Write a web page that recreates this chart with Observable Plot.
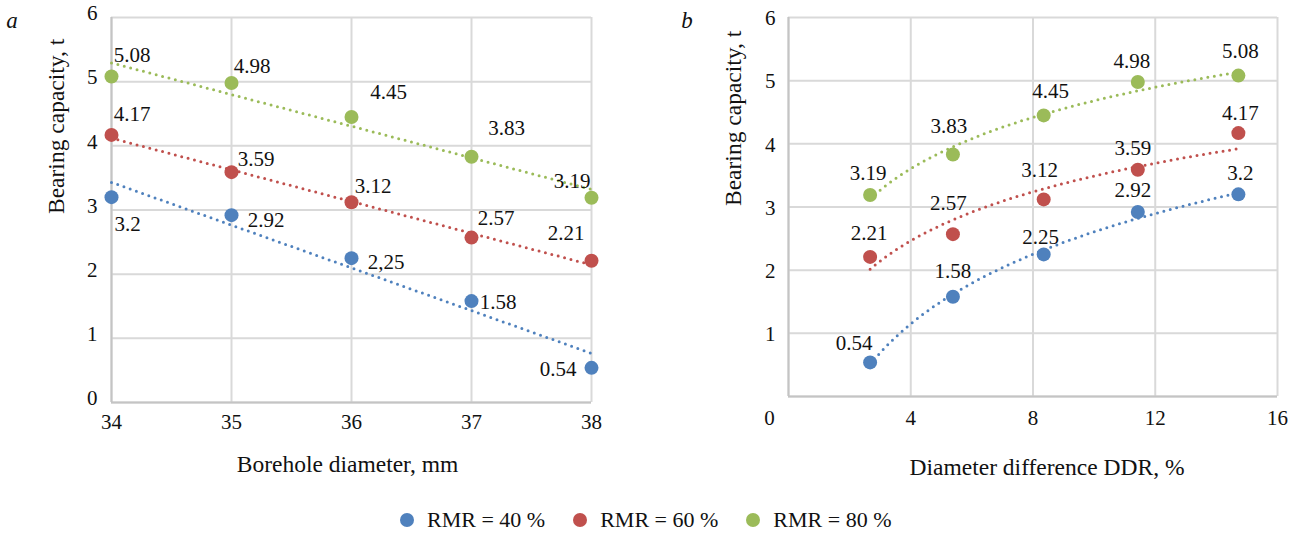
<!DOCTYPE html>
<html>
<head>
<meta charset="utf-8">
<script src="https://cdn.jsdelivr.net/npm/d3@7"></script>
<script src="https://cdn.jsdelivr.net/npm/@observablehq/plot@0.6"></script>
<style>
  html, body { margin: 0; padding: 0; background: #fff; }
  #root { position: relative; width: 1301px; height: 533px; background: #fff; font-family: "Liberation Serif", "Times New Roman", serif; }
  #pa { position: absolute; left: 0; top: 0; width: 660px; height: 480px; }
  #pb { position: absolute; left: 660px; top: 0; width: 641px; height: 480px; }
  #legend { position: absolute; left: 400px; top: 507px; display: flex; align-items: center; font-size: 22px; color: #111; }
  .sw { width: 14px; height: 14px; border-radius: 50%; display: inline-block; margin-right: 13px; }
  .it { display: flex; align-items: center; margin-right: 28px; }
</style>
</head>
<body>
<div id="root">
  <div id="pa"></div>
  <div id="pb"></div>
  <div id="legend"></div>
</div>
<script>
// ---- Data ----
const series = ["RMR = 40 %", "RMR = 60 %", "RMR = 80 %"];
const colors = ["#4f81bd", "#c0504d", "#9bbb59"];

// Panel a: bearing capacity vs borehole diameter
const boreholeDiameter = [34, 35, 36, 37, 38];
const capA40 = [3.2, 2.92, 2.25, 1.58, 0.54];
const capA60 = [4.17, 3.59, 3.12, 2.57, 2.21];
const capA80 = [5.08, 4.98, 4.45, 3.83, 3.19];
const labelsA40 = ["3.2", "2.92", "2,25", "1.58", "0.54"];
const labelsA60 = ["4.17", "3.59", "3.12", "2.57", "2.21"];
const labelsA80 = ["5.08", "4.98", "4.45", "3.83", "3.19"];

// Panel b: bearing capacity vs diameter difference DDR
const ddr = [2.67, 5.38, 8.35, 11.43, 14.72];
const capB40 = [0.54, 1.58, 2.25, 2.92, 3.2];
const capB60 = [2.21, 2.57, 3.12, 3.59, 4.17];
const capB80 = [3.19, 3.83, 4.45, 4.98, 5.08];

// Tick labels
const xTicksA = [34, 35, 36, 37, 38];
const xTicksB = [0, 4, 8, 12, 16];
const yTicks = [0, 1, 2, 3, 4, 5, 6];

// ---- Layout (label offsets in px, [dx, dy] from point centre) ----
const offA = [
  [[16, 27], [34.5, 5], [34.5, 4.5], [26.5, 1.5], [-33.5, 1.5]],
  [[20.5, -20.5], [24.5, -12.5], [21.5, -16], [24.5, -19], [-25.5, -27]],
  [[20.5, -21.5], [20.5, -17], [37, -25], [35, -28], [-19.5, -17]]
];
const offB = [
  [[-16, -19.5], [0, -25], [-3, -17], [-5, -22], [2, -21.5]],
  [[-1, -24], [-4.5, -31], [-4, -29.5], [-5, -21.7], [2, -20]],
  [[-2, -22], [-4, -28.6], [7, -24.4], [-6, -21], [2, -24.6]]
];

const font = "Liberation Serif";
const textColor = "#111";
const gridColor = "#d9d9d9";
const axisColor = "#c4c4c4";
const fmt = d => String(d);

function rows(xs, ysList, labelsList) {
  const out = [];
  ysList.forEach((ys, s) => xs.forEach((x, i) => out.push({x, y: ys[i], s, i, label: labelsList ? labelsList[s][i] : String(ys[i])})));
  return out;
}

const dataA = rows(boreholeDiameter, [capA40, capA60, capA80], [labelsA40, labelsA60, labelsA80]);
const dataB = rows(ddr, [capB40, capB60, capB80], null);

const dotted = {strokeWidth: 3, strokeDasharray: "0 6.6", strokeLinecap: "round"};

function labelMarks(data, offs) {
  return data.map(d => Plot.text([d], {
    x: "x", y: "y", text: "label",
    dx: offs[d.s][d.i][0], dy: offs[d.s][d.i][1],
    fill: textColor, fontSize: 21, textAnchor: "middle", lineAnchor: "middle"
  }));
}

// Logarithmic least-squares trend (y = a + b ln x), as Excel's log trendline
function logTrend(xs, ys) {
  const lx = xs.map(Math.log);
  const mx = d3.mean(lx), my = d3.mean(ys);
  const b = d3.sum(lx, (v, i) => (v - mx) * (ys[i] - my)) / d3.sum(lx, v => (v - mx) ** 2);
  const a = my - b * mx;
  const [x0, x1] = d3.extent(xs);
  return d3.range(0, 81).map(k => {
    const x = x0 + (x1 - x0) * k / 80;
    return {x, y: a + b * Math.log(x)};
  });
}

// ---- Panel a ----
const plotA = Plot.plot({
  width: 660, height: 480,
  marginLeft: 111, marginRight: 69, marginTop: 17, marginBottom: 78,
  style: {fontFamily: font, fontSize: "21px", color: textColor, background: "#fff"},
  x: {domain: [34, 38]},
  y: {domain: [0, 6]},
  marks: [
    Plot.gridX(xTicksA, {stroke: gridColor, strokeOpacity: 1, strokeWidth: 2}),
    Plot.gridY(yTicks, {stroke: gridColor, strokeOpacity: 1, strokeWidth: 2}),
    Plot.ruleY([0], {stroke: axisColor, strokeWidth: 2}),
    Plot.ruleX([34], {stroke: axisColor, strokeWidth: 2}),
    Plot.axisX({ticks: xTicksA, tickFormat: fmt, tickSize: 0, tickPadding: 12, label: null, fontSize: 21, fill: textColor}),
    Plot.axisY({ticks: yTicks, tickFormat: fmt, tickSize: 0, tickPadding: 14, label: null, fontSize: 21, fill: textColor, dy: -4}),
    ...[0, 1, 2].map(s => Plot.linearRegressionY(dataA.filter(d => d.s === s), {x: "x", y: "y", stroke: colors[s], ci: 0, ...dotted})),
    Plot.dot(dataA, {x: "x", y: "y", r: 7, fill: d => colors[d.s], stroke: null}),
    ...labelMarks(dataA, offA),
    Plot.text(["Borehole diameter, mm"], {frameAnchor: "bottom", dx: -4, dy: 62, fontSize: 23.5, fill: textColor, lineAnchor: "middle"}),
    Plot.text(["Bearing capacity, t"], {frameAnchor: "left", rotate: -90, dx: -55, dy: 4, fontSize: 23.5, fill: textColor, lineAnchor: "middle"}),
    Plot.text(["a"], {frameAnchor: "top-left", dx: -99.5, dy: 10, fontSize: 23, fontStyle: "italic", fill: textColor, lineAnchor: "bottom", textAnchor: "middle"})
  ]
});
document.getElementById("pa").appendChild(plotA);

// ---- Panel b ----
const plotB = Plot.plot({
  width: 641, height: 480,
  marginLeft: 128, marginRight: 24, marginTop: 17, marginBottom: 84,
  style: {fontFamily: font, fontSize: "21px", color: textColor, background: "#fff"},
  x: {domain: [0, 16]},
  y: {domain: [0, 6]},
  marks: [
    Plot.gridX(xTicksB, {stroke: gridColor, strokeOpacity: 1, strokeWidth: 2}),
    Plot.gridY(yTicks, {stroke: gridColor, strokeOpacity: 1, strokeWidth: 2}),
    Plot.ruleY([0], {stroke: axisColor, strokeWidth: 2}),
    Plot.ruleX([0], {stroke: axisColor, strokeWidth: 2}),
    Plot.axisX({ticks: xTicksB.filter(t => t > 0), tickFormat: fmt, tickSize: 0, tickPadding: 14, label: null, fontSize: 21, fill: textColor}),
    Plot.axisY({ticks: yTicks.filter(t => t > 0), tickFormat: fmt, tickSize: 0, tickPadding: 13, label: null, fontSize: 21, fill: textColor, dy: 1}),
    Plot.text([xTicksB[0]], {x: d => d, y: 0, text: d => String(d), dx: -19, dy: 22, fontSize: 21, fill: textColor, lineAnchor: "middle"}),
    ...[0, 1, 2].map(s => {
      const ys = [capB40, capB60, capB80][s];
      return Plot.line(logTrend(ddr, ys), {x: "x", y: "y", stroke: colors[s], ...dotted});
    }),
    Plot.dot(dataB, {x: "x", y: "y", r: 7, fill: d => colors[d.s], stroke: null}),
    ...labelMarks(dataB, offB),
    Plot.text(["Diameter difference DDR, %"], {frameAnchor: "bottom", dx: 14, dy: 71, fontSize: 23.5, fill: textColor, lineAnchor: "middle"}),
    Plot.text(["Bearing capacity, t"], {frameAnchor: "left", rotate: -90, dx: -55, dy: -1, fontSize: 23.5, fill: textColor, lineAnchor: "middle"}),
    Plot.text(["b"], {frameAnchor: "top-left", dx: -101.5, dy: 10, fontSize: 23, fontStyle: "italic", fill: textColor, lineAnchor: "bottom", textAnchor: "middle"})
  ]
});
document.getElementById("pb").appendChild(plotB);

// ---- Legend ----
const legend = document.getElementById("legend");
series.forEach((name, s) => {
  const it = document.createElement("div");
  it.className = "it";
  const sw = document.createElement("span");
  sw.className = "sw";
  sw.style.background = colors[s];
  const tx = document.createElement("span");
  tx.textContent = name;
  it.appendChild(sw);
  it.appendChild(tx);
  legend.appendChild(it);
});
</script>
</body>
</html>
